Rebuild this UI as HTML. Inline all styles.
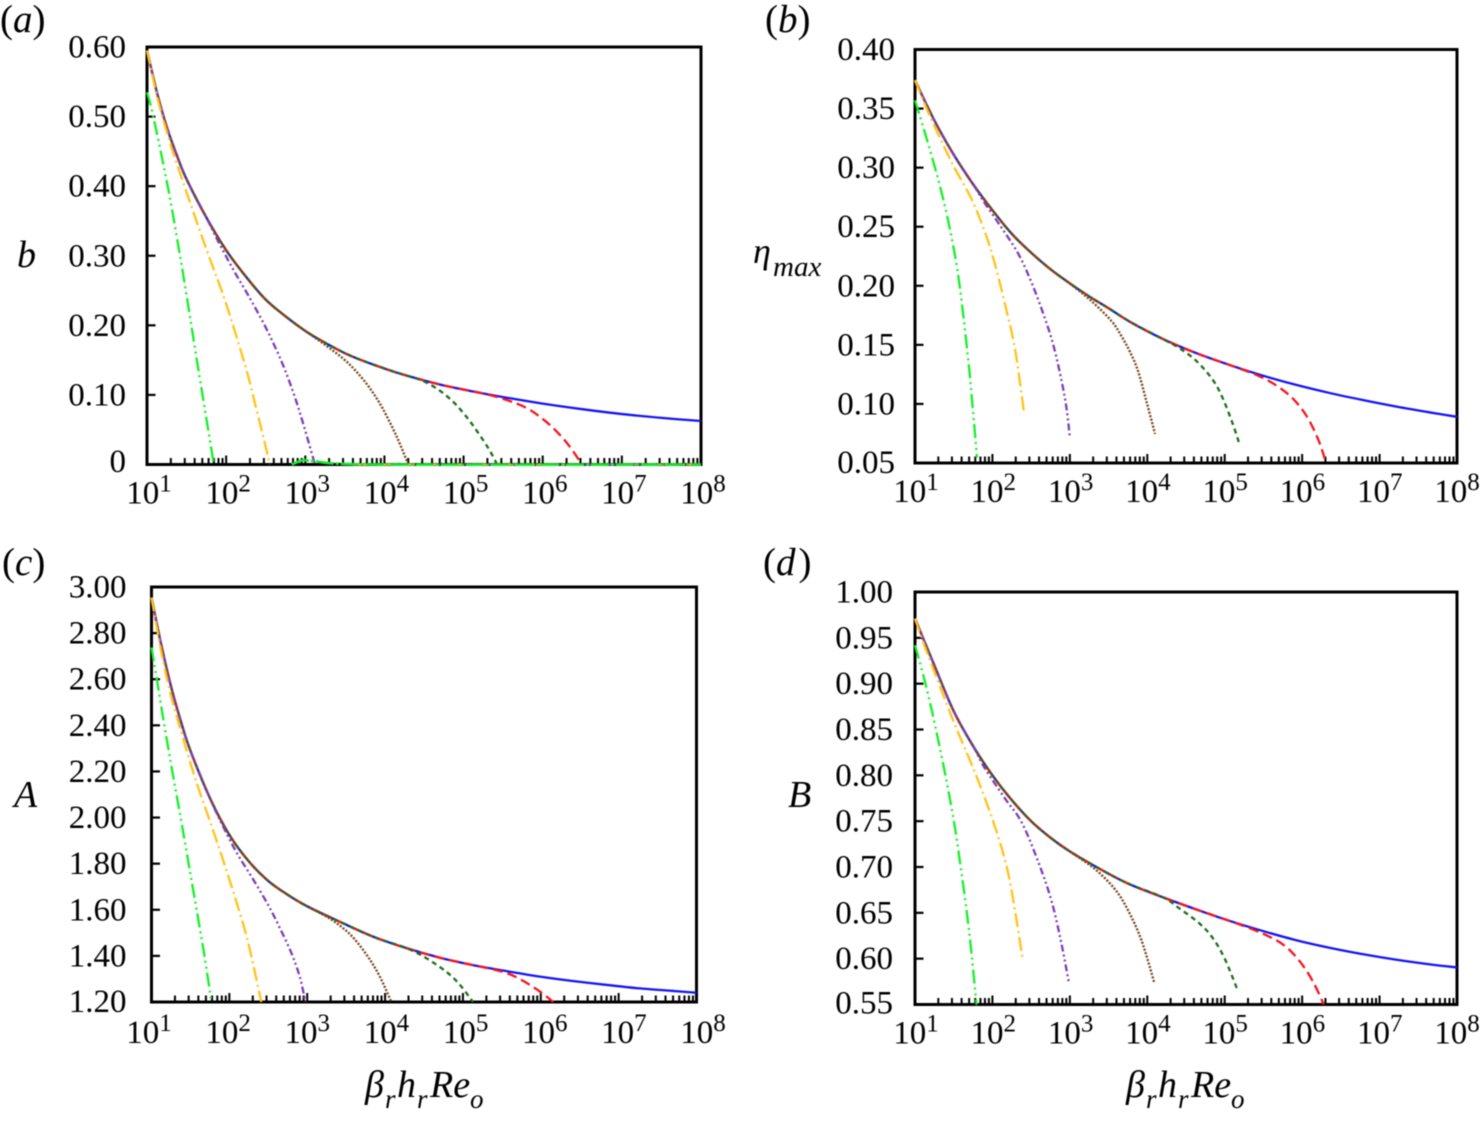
<!DOCTYPE html>
<html lang="en">
<head>
<meta charset="utf-8">
<title>Four-panel log-x parameter chart</title>
<style>
html,body{margin:0;padding:0;background:#fff;}
svg{display:block;font-family:"Liberation Serif","DejaVu Serif",serif;fill:#000;filter:blur(0.45px);}
.tick-label{font-size:33px;}
.italic{font-style:italic;}
</style>
</head>
<body>
<svg id="chart" width="1480" height="1121" viewBox="0 0 1480 1121" xmlns="http://www.w3.org/2000/svg">
  <rect x="0" y="0" width="1480" height="1121" fill="#fff"/>
  <text x="0" y="32" font-size="39">(<tspan class="italic">a</tspan>)</text>
  <text x="765" y="32" font-size="39">(<tspan class="italic">b</tspan>)</text>
  <text x="2" y="575" font-size="39">(<tspan class="italic">c</tspan>)</text>
  <text x="763" y="575" font-size="39">(<tspan class="italic">d</tspan><tspan dx="3">)</tspan></text>

  <text class="italic" x="17" y="267" font-size="38">b</text>
  <text class="italic" x="753" y="263" font-size="36">η<tspan x="773" y="276" font-size="29">max</tspan></text>
  <text class="italic" x="14" y="807" font-size="38">A</text>
  <text class="italic" x="788" y="807" font-size="38">B</text>

  <text class="italic" font-size="38"><tspan x="365" y="1097">β</tspan><tspan x="385" y="1108" font-size="27">r</tspan><tspan x="397" y="1097">h</tspan><tspan x="417" y="1108" font-size="27">r</tspan><tspan x="430" y="1097">Re</tspan><tspan x="470" y="1108" font-size="27">o</tspan></text>
  <text class="italic" font-size="38"><tspan x="1126" y="1097">β</tspan><tspan x="1146" y="1108" font-size="27">r</tspan><tspan x="1158" y="1097">h</tspan><tspan x="1178" y="1108" font-size="27">r</tspan><tspan x="1191" y="1097">Re</tspan><tspan x="1231" y="1108" font-size="27">o</tspan></text>
</svg>
<script>
// ---------- shared axis data ----------
const xDecades = [1,2,3,4,5,6,7,8];
const minorMultipliers = [2,3,4,5,6,7,8,9];

// ---------- panel (a): b ----------
const aYTicks = [0,0.1,0.2,0.3,0.4,0.5,0.6];
const aYLabels = ['0','0.10','0.20','0.30','0.40','0.50','0.60'];
const aMainX = [1,1.125,1.25,1.375,1.5,1.75,2,2.25,2.5,2.75,3,3.25,3.5,3.73,4,4.23,4.7,5.25,5.6,6,6.5,7,7.5,8];
const aMainY = [.595,.535,.485,.445,.41,.355,.308,.27,.237,.213,.192,.175,.16,.149,.138,.1295,.115,.102,.095,.0875,.0795,.0725,.067,.0625];
const aRedX = [5.25,5.55,5.8,6.0,6.18,6.34,6.49];
const aRedY = [.102,.0925,.081,.0655,.047,.026,.001];
const aGreenX = [4.23,4.49,4.7,4.87,5,5.12,5.31,5.42];
const aGreenY = [.1295,.120,.106,.09,.0735,.056,.024,.001];
const aBrownX = [3,3.25,3.48,3.65,3.82,3.98,4.155,4.295];
const aBrownY = [.192,.172,.152,.133,.109,.08,.04,.002];
const aPurpleX = [1.75,1.88,2.09,2.28,2.5,2.7,2.85,2.97,3.12];
const aPurpleY = [.355,.325,.28,.243,.197,.148,.103,.06,.001];
const aOrangeX = [1,1.125,1.25,1.354,1.564,1.77,1.985,2.24,2.365,2.49,2.55];
const aOrangeY = [.595,.53,.478,.44,.37,.303,.236,.1425,.0875,.03,0];
const aLimeX = [1,1.08,1.27,1.417,1.5,1.63,1.82,1.834];
const aLimeY = [.535,.5,.395,.30,.243,.15,.017,.005];
const aPurpleTailX = [4.3,8];
const aPurpleTailY = [0,0];
const aOrangeTailX = [3.6,8];
const aOrangeTailY = [0,0];
const aLimeTailX = [2.83,2.97,3.1,3.9,8];
const aLimeTailY = [0,.006,.005,0,0];

// ---------- panel (b): eta_max ----------
const bYTicks = [.05,.10,.15,.20,.25,.30,.35,.40];
const bYLabels = ['0.05','0.10','0.15','0.20','0.25','0.30','0.35','0.40'];
const bMainX = [1,1.25,1.5,1.75,2,2.25,2.5,2.75,3,3.25,3.5,3.777,4.2,4.64,5.07,5.5,5.93,6.36,6.79,7.22,7.65,8];
const bMainY = [.374,.34,.311,.286,.264,.244,.228,.214,.202,.191,.181,.1695,.155,.1428,.1328,.1238,.116,.1092,.1032,.0977,.0928,.0891];
const bRedX = [5.07,5.41,5.67,5.88,6.06,6.21,6.31];
const bRedY = [.1328,.1245,.1155,.1045,.0895,.0695,.05];
const bGreenX = [4.2,4.42,4.64,4.85,4.98,5.11,5.19];
const bGreenY = [.155,.147,.136,.12,.104,.082,.066];
const bBrownX = [3,3.28,3.54,3.67,3.777,3.88,3.99,4.1];
const bBrownY = [.202,.187,.17,.157,.144,.128,.102,.0746];
const bPurpleX = [1.75,1.90,2.12,2.335,2.51,2.68,2.79,2.895,2.96,3.0];
const bPurpleY = [.286,.27,.249,.227,.202,.172,.149,.119,.095,.0714];
const bOrangeX = [1,1.15,1.344,1.517,1.73,1.90,2.03,2.16,2.27,2.335,2.408];
const bOrangeY = [.374,.35,.322,.299,.2735,.246,.219,.185,.154,.128,.0926];
const bLimeX = [1,1.13,1.30,1.43,1.54,1.62,1.70,1.73,1.775,1.80];
const bLimeY = [.357,.329,.29,.2545,.2165,.177,.1296,.108,.0746,.0545];

// ---------- panel (c): A ----------
const cYTicks = [1.2,1.4,1.6,1.8,2.0,2.2,2.4,2.6,2.8,3.0];
const cYLabels = ['1.20','1.40','1.60','1.80','2.00','2.20','2.40','2.60','2.80','3.00'];
const cMainX = [1,1.125,1.25,1.375,1.5,1.75,2,2.25,2.5,2.75,3,3.42,3.85,4.28,4.705,5.13,5.56,5.99,6.41,6.85,7.27,7.7,8];
const cMainY = [2.954,2.75,2.57,2.42,2.29,2.085,1.925,1.81,1.725,1.665,1.615,1.548,1.483,1.433,1.392,1.36,1.334,1.31,1.291,1.274,1.259,1.248,1.24];
const cRedX = [5.13,5.5,5.73,5.99,6.16];
const cRedY = [1.36,1.332,1.3,1.245,1.2];
const cGreenX = [4.28,4.53,4.79,4.96,5.13];
const cGreenY = [1.433,1.39,1.33,1.275,1.2];
const cBrownX = [3,3.29,3.546,3.76,3.93,4.08];
const cBrownY = [1.615,1.562,1.495,1.406,1.312,1.2];
const cPurpleX = [1.75,1.9,2.09,2.3,2.5,2.65,2.8,2.9,2.94,2.977];
const cPurpleY = [2.085,1.975,1.85,1.735,1.62,1.52,1.41,1.315,1.26,1.2];
const cOrangeX = [1,1.125,1.25,1.4,1.58,1.75,1.92,2.09,2.24,2.41];
const cOrangeY = [2.954,2.72,2.53,2.35,2.15,1.985,1.815,1.635,1.46,1.2];
const cLimeX = [1,1.064,1.15,1.278,1.385,1.492,1.6,1.685,1.77];
const cLimeY = [2.738,2.608,2.43,2.18,1.98,1.77,1.56,1.39,1.2];

// ---------- panel (d): B ----------
const dYTicks = [.55,.60,.65,.70,.75,.80,.85,.90,.95,1.00];
const dYLabels = ['0.55','0.60','0.65','0.70','0.75','0.80','0.85','0.90','0.95','1.00'];
const dMainX = [1,1.25,1.5,1.75,2,2.25,2.5,2.75,3,3.45,3.777,4.2,4.64,5.07,5.5,5.93,6.36,6.79,7.22,7.65,8];
const dMainY = [.971,.92,.87,.832,.80,.773,.75,.732,.717,.695,.681,.667,.6535,.641,.63,.62,.6118,.6048,.5988,.5938,.5905];
const dRedX = [5.07,5.46,5.76,5.97,6.14,6.28];
const dRedY = [.641,.6285,.615,.597,.575,.55];
const dGreenX = [4.2,4.42,4.68,4.85,5,5.17];
const dGreenY = [.667,.6545,.638,.622,.6,.565];
const dBrownX = [3,3.32,3.58,3.75,3.925,4.09];
const dBrownY = [.717,.698,.676,.653,.62,.574];
const dPurpleX = [1.75,1.9,2.16,2.376,2.59,2.763,2.89,2.987];
const dPurpleY = [.832,.808,.775,.749,.706,.663,.617,.574];
const dOrangeX = [1,1.129,1.30,1.516,1.731,1.903,2.075,2.204,2.31,2.389];
const dOrangeY = [.971,.94,.902,.855,.812,.775,.733,.693,.643,.6];
const dLimeX = [1,1.129,1.258,1.409,1.516,1.58,1.667,1.731,1.787,1.796];
const dLimeY = [.942,.902,.855,.793,.743,.706,.652,.605,.556,.55];

// ---------- drawing ----------
const NS = 'http://www.w3.org/2000/svg';
const svg = document.getElementById('chart');
const styles = {
  main:   {color:'#1414f5', dash:'', w:2.3},
  red:    {color:'#f5141e', dash:'10 5', w:2.3},
  green:  {color:'#1b6f1b', dash:'5 4', w:2.3},
  brown:  {color:'#75471f', dash:'2 1.6', w:2.4},
  purple: {color:'#7a3eb8', dash:'7 3 2 3 2 3', w:2.3},
  orange: {color:'#ffc31a', dash:'14 4 2 4', w:2.3},
  lime:   {color:'#14f028', dash:'14 4 2 4 2 4', w:2.3},
  limeFloor: {color:'#14e828', dash:'18 2 3 2', w:2.6}
};

function make(parent, tag, attrs) {
  const el = document.createElementNS(NS, tag);
  for (const k in attrs) el.setAttribute(k, attrs[k]);
  parent.appendChild(el);
  return el;
}

function smoothPath(pts) {
  let d = 'M' + pts[0][0].toFixed(2) + ' ' + pts[0][1].toFixed(2);
  for (let i = 0; i < pts.length - 1; i++) {
    const p0 = pts[Math.max(i - 1, 0)], p1 = pts[i], p2 = pts[i + 1], p3 = pts[Math.min(i + 2, pts.length - 1)];
    const c1x = p1[0] + (p2[0] - p0[0]) / 6, c1y = p1[1] + (p2[1] - p0[1]) / 6;
    const c2x = p2[0] - (p3[0] - p1[0]) / 6, c2y = p2[1] - (p3[1] - p1[1]) / 6;
    d += 'C' + c1x.toFixed(2) + ' ' + c1y.toFixed(2) + ' ' + c2x.toFixed(2) + ' ' + c2y.toFixed(2) + ' ' + p2[0].toFixed(2) + ' ' + p2[1].toFixed(2);
  }
  return d;
}

// A branch series shares the main curve up to its first own point.
function withPrefix(mainX, mainY, xs, ys) {
  const px = [], py = [];
  for (let i = 0; i < mainX.length; i++) {
    if (mainX[i] < xs[0] - 0.02) { px.push(mainX[i]); py.push(mainY[i]); }
  }
  return [px.concat(xs), py.concat(ys)];
}

function drawPanel(cfg) {
  const g = make(svg, 'g', {});
  
  

  const xOf = v => cfg.left + (v - 1) * (cfg.right - cfg.left) / 7;
  const yOf = v => cfg.bottom - (v - cfg.yMin) * (cfg.bottom - cfg.top) / (cfg.yMax - cfg.yMin);
  const xLabelOf = v => cfg.labelLeft + (v - 1) * (cfg.labelRight - cfg.labelLeft) / 7;

  // plot frame
  const frame = make(g, 'rect', {x: cfg.left, y: cfg.top, width: cfg.right - cfg.left, height: cfg.bottom - cfg.top, fill: 'none', stroke: '#000', 'stroke-width': 3});
  
  

  // y ticks and labels
  cfg.yTicks.forEach((v, i) => {
    const y = yOf(v);
    const tick = make(g, 'line', {x1: cfg.left, x2: cfg.left + 8.5, y1: y, y2: y, stroke: '#000', 'stroke-width': 2.2});
    
    
    const label = make(g, 'text', {x: cfg.left - cfg.yLabelGap, y: y + (i === 0 ? cfg.firstLabelDy : 10.5), 'text-anchor': 'end', class: 'tick-label'});
    label.textContent = cfg.yLabels[i];
    
    
  });

  // x ticks and labels
  xDecades.forEach(dec => {
    const x = xOf(dec);
    if (dec > 1 && dec < 8) {
      const tick = make(g, 'line', {x1: x, x2: x, y1: cfg.bottom, y2: cfg.bottom - 9, stroke: '#000', 'stroke-width': 2});
      
      
    }
    if (dec < 8) {
      minorMultipliers.forEach(m => {
        const mx = xOf(dec + Math.log10(m));
        const minor = make(g, 'line', {x1: mx, x2: mx, y1: cfg.bottom, y2: cfg.bottom - 6.5, stroke: '#000', 'stroke-width': 2});
        
        
      });
    }
    const label = make(g, 'text', {x: xLabelOf(dec), y: cfg.bottom + cfg.xLabelDy, 'text-anchor': 'middle', class: 'tick-label'});
    label.appendChild(document.createTextNode('10'));
    const sup = make(label, 'tspan', {dy: -12, 'font-size': 25});
    sup.textContent = String(dec);
    
    
  });

  // series
  cfg.series.forEach(s => {
    const st = styles[s.style];
    const pts = s.x.map((v, i) => [xOf(v), yOf(s.y[i])]);
    const path = make(g, 'path', {d: smoothPath(pts), fill: 'none', stroke: st.color, 'stroke-width': st.w});
    if (st.dash) path.setAttribute('stroke-dasharray', st.dash);
    
    
  });
}

function seriesFor(mX, mY, rX, rY, gX, gY, brX, brY, pX, pY, oX, oY, lX, lY) {
  const r = withPrefix(mX, mY, rX, rY);
  const g = withPrefix(mX, mY, gX, gY);
  const br = withPrefix(mX, mY, brX, brY);
  const p = withPrefix(mX, mY, pX, pY);
  return [
    {name: 'limit-solid', style: 'main', x: mX, y: mY},
    {name: 'red-long-dash', style: 'red', x: r[0], y: r[1]},
    {name: 'green-short-dash', style: 'green', x: g[0], y: g[1]},
    {name: 'brown-dotted', style: 'brown', x: br[0], y: br[1]},
    {name: 'purple-dash-dot-dot', style: 'purple', x: p[0], y: p[1]},
    {name: 'orange-dash-dot', style: 'orange', x: oX, y: oY},
    {name: 'lime-dash-dot-dot', style: 'lime', x: lX, y: lY}
  ];
}

const aSeries = seriesFor(aMainX,aMainY,aRedX,aRedY,aGreenX,aGreenY,aBrownX,aBrownY,aPurpleX,aPurpleY,aOrangeX,aOrangeY,aLimeX,aLimeY);
aSeries.push({name: 'purple-floor', style: 'purple', x: aPurpleTailX, y: aPurpleTailY});
aSeries.push({name: 'orange-floor', style: 'orange', x: aOrangeTailX, y: aOrangeTailY});
aSeries.push({name: 'lime-floor', style: 'limeFloor', x: aLimeTailX, y: aLimeTailY});

drawPanel({id:'a', left:147, right:701, top:47, bottom:464.5, labelLeft:149, labelRight:703, yMin:0, yMax:0.6, yTicks:aYTicks, yLabels:aYLabels, yLabelGap:21, firstLabelDy:7.5, xLabelDy:39, series:aSeries});
drawPanel({id:'b', left:915, right:1457, top:49.5, bottom:463, labelLeft:916, labelRight:1457, yMin:0.05, yMax:0.40, yTicks:bYTicks, yLabels:bYLabels, yLabelGap:20, firstLabelDy:10, xLabelDy:39,
  series: seriesFor(bMainX,bMainY,bRedX,bRedY,bGreenX,bGreenY,bBrownX,bBrownY,bPurpleX,bPurpleY,bOrangeX,bOrangeY,bLimeX,bLimeY)});
drawPanel({id:'c', left:151.5, right:696.5, top:587, bottom:1002, labelLeft:149, labelRight:703, yMin:1.2, yMax:3.0, yTicks:cYTicks, yLabels:cYLabels, yLabelGap:25, firstLabelDy:10, xLabelDy:41,
  series: seriesFor(cMainX,cMainY,cRedX,cRedY,cGreenX,cGreenY,cBrownX,cBrownY,cPurpleX,cPurpleY,cOrangeX,cOrangeY,cLimeX,cLimeY)});
drawPanel({id:'d', left:915, right:1457, top:592, bottom:1004.5, labelLeft:916, labelRight:1457, yMin:0.55, yMax:1.0, yTicks:dYTicks, yLabels:dYLabels, yLabelGap:22, firstLabelDy:9, xLabelDy:39,
  series: seriesFor(dMainX,dMainY,dRedX,dRedY,dGreenX,dGreenY,dBrownX,dBrownY,dPurpleX,dPurpleY,dOrangeX,dOrangeY,dLimeX,dLimeY)});
</script>
</body>
</html>
